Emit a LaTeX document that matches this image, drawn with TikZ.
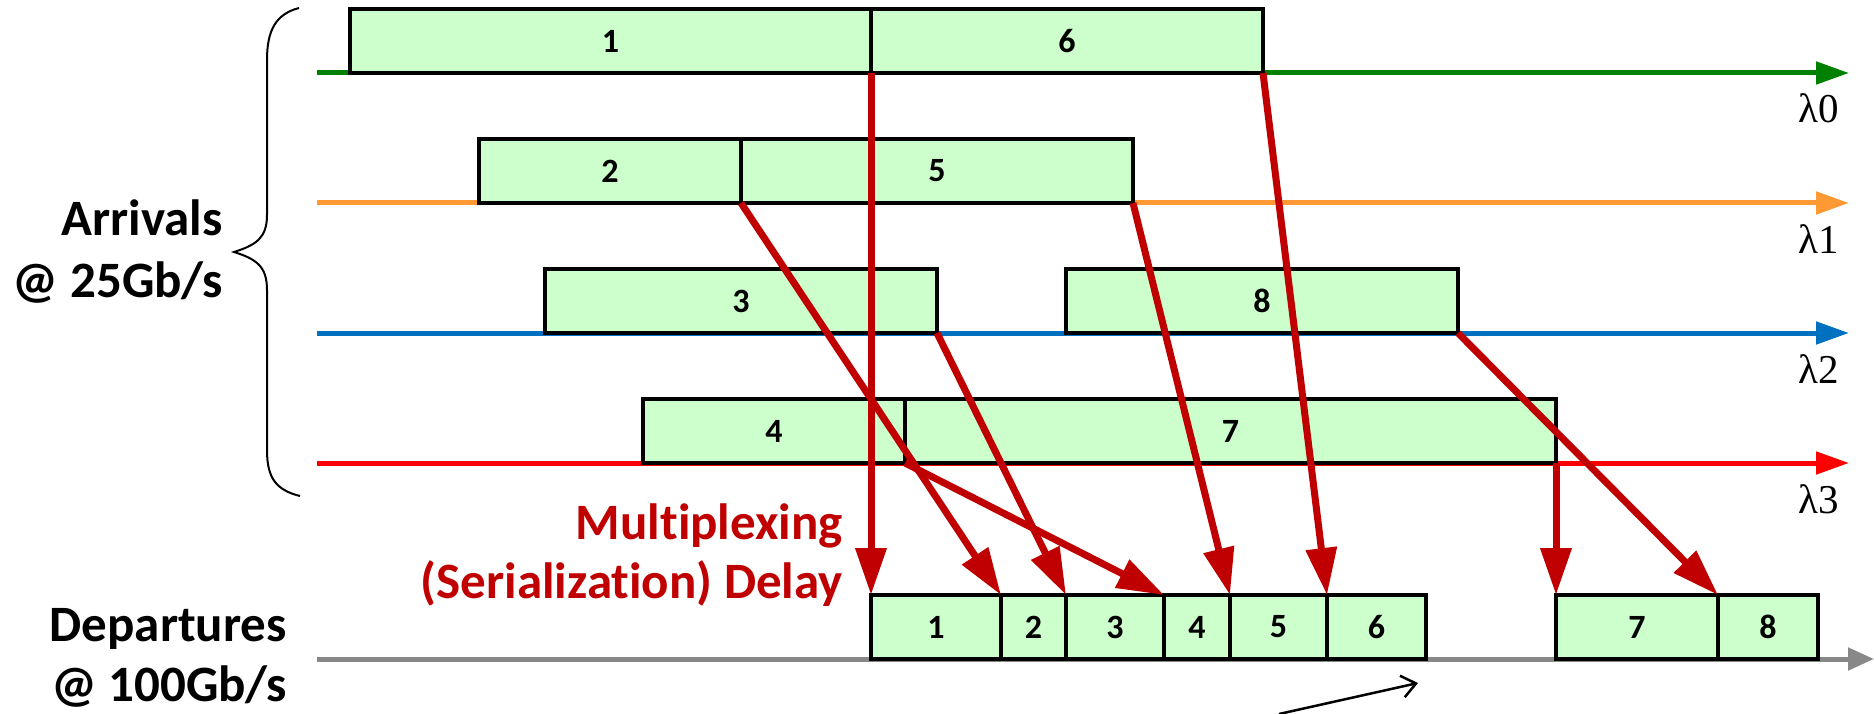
\documentclass[tikz,border=0pt]{standalone}
\usepackage{fontspec}
\usetikzlibrary{arrows.meta}
\newfontfamily\calfont{Carlito}[Ligatures=NoCommon]
\newfontfamily\lamfont{Liberation Serif}
\definecolor{pktfill}{HTML}{CCFFCC}
\definecolor{delayred}{HTML}{C00000}
\definecolor{lgreen}{HTML}{008000}
\definecolor{lorange}{HTML}{FF9933}
\definecolor{lblue}{HTML}{0070C0}
\definecolor{lred}{HTML}{FF0000}
\definecolor{lgray}{HTML}{888888}

\begin{document}
\begin{tikzpicture}[x=1pt,y=-1pt,
  pkt/.style={draw=black, line width=4pt, fill=pktfill, minimum height=64pt,
    inner sep=0pt, outer sep=0pt, anchor=south west,
    font=\calfont\bfseries\fontsize{34}{34}\selectfont},
  wl/.style={line width=5pt, -{Triangle[length=33pt,width=22pt]}},
  mux/.style={delayred, line width=7pt, -{Triangle[length=47pt,width=30pt]}},
  lam/.style={anchor=base west, inner sep=0pt, font=\lamfont\fontsize{41}{41}\selectfont},
  lbl/.style={anchor=base east, inner sep=0pt, font=\calfont\bfseries\fontsize{51}{61}\selectfont},
]
\useasboundingbox (0,0) rectangle (1874,714);

% wavelength time lines
\coordinate (w0s) at (317,73);  \coordinate (w0e) at (1849,73);
\coordinate (w1s) at (317,203); \coordinate (w1e) at (1849,203);
\coordinate (w2s) at (317,333); \coordinate (w2e) at (1849,333);
\coordinate (w3s) at (317,463); \coordinate (w3e) at (1849,463);
\coordinate (outs) at (317,659); \coordinate (oute) at (1874,659);
\draw[wl, lgreen]  (w0s) -- (w0e);
\draw[wl, lorange] (w1s) -- (w1e);
\draw[wl, lblue]   (w2s) -- (w2e);
\draw[wl, lred]    (w3s) -- (w3e);
\draw[lgray, line width=5pt, -{Triangle[length=26pt,width=22pt]}] (outs) -- (oute);

\node[lam] (l0) at (1798,123) {λ0};
\node[lam] (l1) at (1798,253) {λ1};
\node[lam] (l2) at (1798,383) {λ2};
\node[lam] (l3) at (1798,513) {λ3};

% arriving packets at 25Gb/s
\node[pkt, minimum width=521pt] (a1) at (350,73)  {1};
\node[pkt, minimum width=392pt] (a6) at (871,73)  {6};
\node[pkt, minimum width=262pt] (a2) at (479,203) {2};
\node[pkt, minimum width=392pt] (a5) at (741,203) {5};
\node[pkt, minimum width=392pt] (a3) at (545,333) {3};
\node[pkt, minimum width=392pt] (a8) at (1066,333) {8};
\node[pkt, minimum width=262pt] (a4) at (643,463) {4};
\node[pkt, minimum width=651pt] (a7) at (905,463) {7};

% departing packets at 100Gb/s
\node[pkt, minimum width=130pt] (d1) at (871,659)  {1};
\node[pkt, minimum width=65pt]  (d2) at (1001,659) {2};
\node[pkt, minimum width=98pt]  (d3) at (1066,659) {3};
\node[pkt, minimum width=66pt]  (d4) at (1164,659) {4};
\node[pkt, minimum width=97pt]  (d5) at (1230,659) {5};
\node[pkt, minimum width=99pt]  (d6) at (1327,659) {6};
\node[pkt, minimum width=162pt] (d7) at (1556,659) {7};
\node[pkt, minimum width=100pt] (d8) at (1718,659) {8};

% multiplexing arrows
\draw[mux] (a1.south east) -- (d1.north west);
\draw[mux] (a2.south east) -- (d2.north west);
\draw[mux] (a3.south east) -- (d3.north west);
\draw[mux] (a4.south east) -- (d4.north west);
\draw[mux] (a5.south east) -- (d5.north west);
\draw[mux] (a6.south east) -- (d6.north west);
\draw[mux] (a7.south east) -- (d7.north west);
\draw[mux] (a8.south east) -- (d8.north west);

% brace grouping the arrivals
\draw[line width=2pt] (299,8) .. controls (276,14) and (267,30) .. (267,60)
  -- (267,215) .. controls (267,238) and (256,245) .. (234,252)
  .. controls (256,259) and (267,266) .. (267,290)
  -- (267,450) .. controls (267,478) and (276,490) .. (300,496);

% labels
\node[lbl] (arr1) at (223,236) {Arrivals};
\node[lbl] (arr2) at (223,297) {@ 25Gb/s};
\node[lbl] (dep1) at (287,641) {Departures};
\node[lbl] (dep2) at (287,701) {@ 100Gb/s};
\node[lbl, text=delayred] (mx1) at (843,539) {Multiplexing};
\node[lbl, text=delayred] (mx2) at (843,598) {(Serialization) Delay};

% small time arrow
\coordinate (ts) at (1279,714);
\coordinate (te) at (1418,683);
\draw[line width=2.5pt, -{Straight Barb[length=14pt,width=22pt]}] (ts) -- (te);
\end{tikzpicture}
\end{document}
